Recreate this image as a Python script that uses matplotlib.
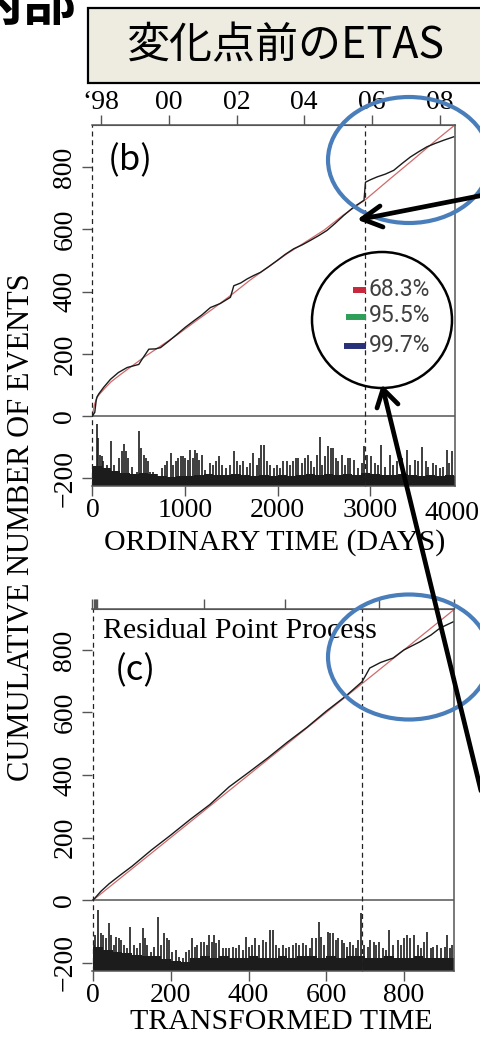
import matplotlib.pyplot as plt
from matplotlib.patches import Ellipse, Rectangle

SERIF = 'Liberation Serif'
CJK = ['Noto Sans CJK JP', 'DejaVu Sans']

# ---- panel (b): ordinary time (days) ----
b_days = [0, 10, 25, 40, 50, 70, 120, 194, 280, 374, 450, 500, 536, 608, 680, 734,
          820, 913, 1000, 1093, 1180, 1273, 1380, 1489, 1525, 1600, 1669, 1740, 1812,
          1900, 1992, 2080, 2172, 2260, 2352, 2440, 2531, 2620, 2711, 2819, 2930, 2946,
          3000, 3071, 3160, 3250, 3340, 3430, 3520, 3610, 3700, 3790, 3898]
b_counts = [0, 5, 12, 50, 62, 72, 92, 118, 140, 156, 162, 166, 183, 215, 216, 220,
            240, 263, 285, 306, 325, 349, 362, 382, 419, 428, 441, 452, 462,
            480, 500, 520, 538, 550, 565, 580, 597, 620, 645, 672, 694, 752,
            760, 769, 778, 790, 812, 833, 850, 866, 877, 887, 898]
b_model_days = [0, 10, 25, 45, 70, 120, 200, 300, 400, 550, 700, 900, 1100, 1300, 1500,
                1700, 1900, 2100, 2300, 2500, 2700, 2946, 3200, 3450, 3700, 3915]
b_model_counts = [0, 20, 40, 58, 68, 85, 110, 133, 155, 188, 218, 258, 302, 345, 390,
                  437, 480, 522, 560, 598, 645, 696, 760, 822, 885, 937]
b_change_day = 2946
b_year_days = [94, 824, 1555, 2285, 3016, 3746]
b_year_labels = ['\u201898', '00', '02', '04', '06', '08']
b_x_ticks = [0, 1000, 2000, 3000]

b_spike_days = [47, 58, 83, 101, 119, 155, 202, 227, 288, 316,
                342, 360, 388, 424, 478, 507, 525, 557, 575, 597,
                622, 658, 694, 755, 784, 806, 845, 874, 899, 928,
                953, 982, 1000, 1029, 1057, 1083, 1108, 1126, 1154, 1180,
                1216, 1269, 1298, 1331, 1367, 1403, 1439, 1485, 1528, 1557,
                1593, 1629, 1665, 1701, 1730, 1773, 1798, 1820, 1852, 1881,
                1917, 1963, 1996, 2025, 2061, 2097, 2133, 2169, 2194, 2222,
                2258, 2294, 2330, 2359, 2388, 2424, 2456, 2474, 2510, 2546,
                2571, 2600, 2625, 2654, 2690, 2726, 2755, 2784, 2823, 2870,
                2906, 2934, 2960, 3006, 3050, 3078, 3114, 3157, 3211, 3247,
                3283, 3337, 3391, 3427, 3481, 3517, 3553, 3596, 3625, 3679,
                3704, 3751, 3787, 3823, 3848, 3877]
b_spike_vals = [-26, -70, -125, -130, -146, -157, -81, -157, -136, -114,
                -90, -114, -136, -163, -179, -48, -103, -125, -136, -146,
                -179, -179, -185, -168, -157, -146, -119, -157, -146, -136,
                -130, -130, -136, -141, -108, -136, -108, -119, -141, -125,
                -174, -152, -157, -146, -130, -157, -168, -157, -114, -146,
                -157, -146, -163, -152, -119, -157, -136, -92, -92, -146,
                -157, -168, -157, -168, -146, -146, -157, -146, -136, -136,
                -152, -136, -125, -146, -163, -125, -68, -157, -130, -97,
                -103, -103, -136, -146, -125, -157, -136, -136, -141, -168,
                -152, -97, -125, -130, -152, -157, -94, -163, -125, -157,
                -146, -136, -108, -157, -141, -146, -100, -146, -163, -152,
                -157, -168, -163, -108, -152, -114]
b_floor_days = list(range(0, 4000, 100))
b_floor_vals = [-160, -168, -178, -182, -186, -182, -186, -192, -196, -194,
                -194, -190, -186, -190, -190, -186, -190, -194, -190, -194,
                -190, -194, -190, -186, -190, -186, -190, -186, -190, -182,
                -186, -190, -190, -186, -190, -194, -190, -194, -190, -194]

# ---- panel (c): transformed time ----
c_time = [0, 10, 20, 41, 70, 100, 150, 200, 250, 300, 350, 400, 450, 500, 550, 600,
          650, 692, 700, 712, 740, 772, 800, 841, 870, 893, 927]
c_counts = [0, 14, 28, 52, 80, 108, 160, 208, 258, 305, 362, 408, 455, 505, 552, 604,
            652, 698, 715, 742, 760, 774, 800, 826, 848, 870, 890]
c_model_time = [0, 929]
c_model_counts = [0, 929]
c_change_time = 692
c_year_ticks = [-2, 1, 4, 7, 10, 286, 495, 735, 929]
c_x_ticks = [0, 200, 400, 600, 800]

c_spike_time = [2, 6, 12, 19, 25, 32, 40, 46, 53, 60,
                66, 72, 79, 88, 96, 105, 112, 120, 129, 133,
                139, 148, 157, 161, 167, 174, 182, 189, 195, 204,
                213, 221, 230, 238, 247, 255, 261, 268, 277, 286,
                292, 298, 305, 310, 316, 324, 333, 342, 350, 359,
                367, 376, 385, 393, 402, 410, 417, 427, 436, 445,
                455, 462, 471, 479, 488, 496, 505, 514, 522, 531,
                539, 548, 557, 563, 574, 582, 587, 595, 604, 611,
                617, 625, 631, 640, 647, 654, 660, 668, 677, 683,
                690, 698, 707, 714, 723, 729, 737, 746, 754, 761,
                772, 785, 793, 800, 809, 817, 826, 836, 845, 853,
                860, 869, 875, 886, 896, 905, 912, 918, 924]
c_spike_vals = [-144, -112, -32, -107, -112, -123, -75, -112, -144, -117,
                -123, -128, -144, -155, -87, -144, -155, -139, -91, -123,
                -144, -165, -149, -187, -55, -144, -107, -123, -128, -165,
                -160, -181, -187, -165, -160, -123, -149, -144, -133, -133,
                -144, -112, -133, -112, -139, -128, -155, -155, -155, -149,
                -155, -144, -160, -117, -149, -144, -123, -144, -128, -133,
                -96, -96, -144, -155, -144, -155, -149, -144, -139, -144,
                -139, -144, -155, -123, -123, -69, -117, -144, -101, -107,
                -107, -128, -123, -128, -139, -149, -133, -144, -155, -128,
                -43, -144, -149, -128, -133, -144, -133, -155, -160, -96,
                -144, -128, -144, -123, -112, -123, -112, -144, -155, -133,
                -101, -155, -149, -144, -155, -149, -112, -155, -144]
c_floor_time = list(range(0, 950, 25))
c_floor_vals = [-150, -160, -165, -170, -175, -180, -180, -190, -195, -198,
                -185, -180, -185, -180, -185, -185, -180, -185, -185, -180,
                -185, -180, -180, -185, -180, -185, -180, -180, -185, -185,
                -180, -185, -185, -180, -185, -185, -185, -185]

y_ticks = [-200, 0, 200, 400, 600, 800]
legend_labels = ['68.3%', '95.5%', '99.7%']
legend_colors = ['#c8283c', '#2f9e58', '#283078']

AX_GRAY = '#555555'


def cumulative_panel(ax, t, n, mt, mn, change, sp_t, sp_v, fl_t, fl_v, xlim, ylim, xticks):
    ax.set_xlim(*xlim)
    ax.set_ylim(*ylim)
    low = ylim[0]
    ax.fill_between(list(fl_t) + [xlim[1]], low, list(fl_v) + [fl_v[-1]],
                    step='post', color='#1c1c1c', lw=0)
    ax.vlines(sp_t, low, sp_v, colors='#1c1c1c', lw=1.2)
    ax.axhline(0, color=AX_GRAY, lw=1.1)
    ax.plot(mt, mn, color='#d06a6a', lw=0.9)
    ax.plot(t, n, color='#1a1a1a', lw=1.0)
    for x in (0, change):
        ax.axvline(x, color='#222222', lw=0.9, ls=(0, (4, 3)), clip_on=False)
    for side in ('top', 'right', 'bottom'):
        ax.spines[side].set_color(AX_GRAY)
        ax.spines[side].set_linewidth(1.1)
    ax.spines['left'].set_visible(False)
    ax.set_xticks(xticks)
    ax.set_yticks(y_ticks)
    ax.tick_params(axis='both', direction='out', length=7, width=1.0, color=AX_GRAY,
                   labelsize=20)
    ax.tick_params(axis='x', pad=1.5)
    ax.tick_params(axis='y', pad=3.5, labelrotation=90)
    for lbl in ax.get_xticklabels() + ax.get_yticklabels():
        lbl.set_family(SERIF)
    for lbl in ax.get_yticklabels():
        lbl.set_va('center')


fig = plt.figure(figsize=(4.81, 10.38), dpi=100)
fig.patch.set_facecolor('white')

ax_b = fig.add_axes([92 / 481, 1 - 486 / 1038, 363 / 481, 361 / 1038])
cumulative_panel(ax_b, b_days, b_counts, b_model_days, b_model_counts, b_change_day,
                 b_spike_days, b_spike_vals, b_floor_days, b_floor_vals,
                 (-5, 3912), (-225, 936), b_x_ticks)
# the last day label sits past the frame, flush with the figure edge
fig.text(480 / 481, 1 - 513 / 1038, '4000', ha='right', va='center', fontsize=20,
         family=SERIF)
top_b = ax_b.secondary_xaxis('top')
top_b.set_xticks(b_year_days, b_year_labels)
top_b.tick_params(direction='out', length=7, width=1.0, color=AX_GRAY, labelsize=20, pad=0)
top_b.spines['top'].set_color(AX_GRAY)
for lbl in top_b.get_xticklabels():
    lbl.set_family(SERIF)
ax_b.text(0.043, 0.90, '(b)', transform=ax_b.transAxes, fontsize=25, family=CJK,
          va='center', ha='left')

ax_c = fig.add_axes([92 / 481, 1 - 971 / 1038, 362 / 481, 362 / 1038])
cumulative_panel(ax_c, c_time, c_counts, c_model_time, c_model_counts, c_change_time,
                 c_spike_time, c_spike_vals, c_floor_time, c_floor_vals,
                 (-3, 929), (-227, 931), c_x_ticks)
top_c = ax_c.secondary_xaxis('top')
top_c.set_xticks(c_year_ticks, [''] * len(c_year_ticks))
top_c.tick_params(direction='out', length=7, width=1.0, color=AX_GRAY)
top_c.spines['top'].set_color(AX_GRAY)
ax_c.text(0.03, 0.94, 'Residual Point Process', transform=ax_c.transAxes, fontsize=21.5,
          family=SERIF, va='center', ha='left')
ax_c.text(0.062, 0.83, '(c)', transform=ax_c.transAxes, fontsize=25, family=CJK,
          va='center', ha='left')

fig.text(22 / 481, 1 - 527 / 1038, 'CUMULATIVE NUMBER OF EVENTS', rotation=90,
         fontsize=22, family=SERIF, ha='center', va='center')
fig.text(275 / 481, 1 - 543 / 1038, 'ORDINARY TIME (DAYS)', fontsize=21.5, family=SERIF,
         ha='center', va='center')
fig.text(281 / 481, 1 - 1022 / 1038, 'TRANSFORMED TIME', fontsize=21.5, family=SERIF,
         ha='center', va='center')

# annotation layer in pixel coordinates
ov = fig.add_axes([0, 0, 1, 1], zorder=10)
ov.set_xlim(0, 481)
ov.set_ylim(1038, 0)
ov.axis('off')

ov.add_patch(Rectangle((88, 8), 400, 75, facecolor='#eeece1', edgecolor='black', lw=1.6))
ov.text(285, 46, '変化点前のETAS', fontsize=31, family=CJK, ha='center', va='center')
ov.text(76, 20, '内部', fontsize=39, family=CJK, weight='bold', ha='right', va='baseline')

blue = '#4a7ebb'
ov.add_patch(Ellipse((409, 160), 162, 126, fill=False, edgecolor=blue, lw=3))
ov.add_patch(Ellipse((409, 657), 162, 125, fill=False, edgecolor=blue, lw=3))
ov.add_patch(Ellipse((382, 320), 140, 136, fill=False, edgecolor='black', lw=1.8))

for (x0, x1, y), lab, col in zip([(353, 366, 290), (346, 366, 317), (344, 366, 346)],
                                 legend_labels, legend_colors):
    ov.plot([x0, x1], [y, y], color=col, lw=4.3, solid_capstyle='butt')
    ov.text(369, y - 1, lab, fontsize=16.5, family='Roboto', color='#404040',
            ha='left', va='center')

arrow_kw = dict(color='black', lw=3.4, solid_capstyle='round', solid_joinstyle='round')
ov.plot([484, 362], [195, 219], **arrow_kw)
ov.plot([380, 362, 383], [206, 219, 227], **arrow_kw)
ov.plot([383, 493], [389, 840], **arrow_kw)
ov.plot([377, 383, 398], [408, 389, 404], **arrow_kw)

fig.savefig('out.png', dpi=100)
